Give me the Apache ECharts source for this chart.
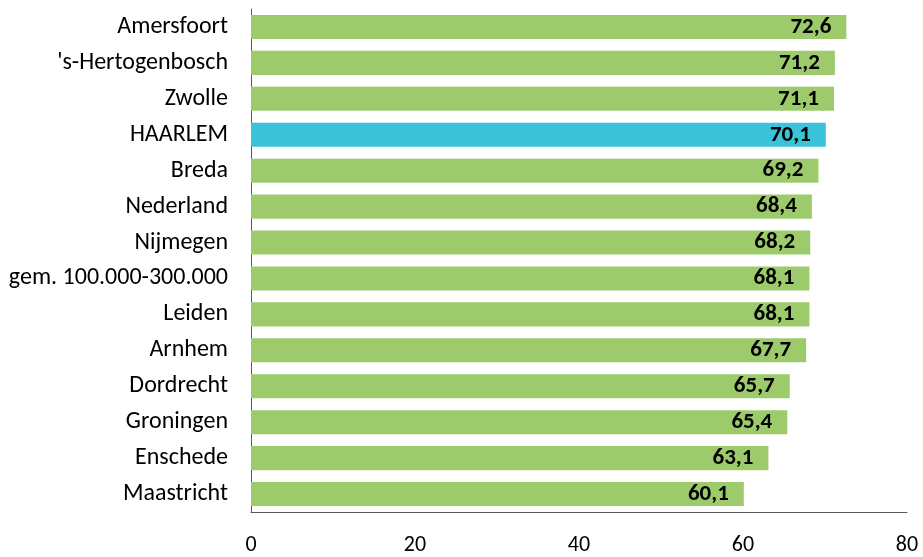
<!DOCTYPE html>
<html><head><meta charset="utf-8">
<script src="https://cdn.jsdelivr.net/npm/echarts@6/dist/echarts.min.js"></script>
<style>html,body{margin:0;padding:0;background:#fff}#c{width:923px;height:557px}</style>
</head><body><div id="c"></div>
<script>
const categories = ['Amersfoort', "'s-Hertogenbosch", 'Zwolle', 'HAARLEM', 'Breda', 'Nederland', 'Nijmegen', 'gem. 100.000-300.000', 'Leiden', 'Arnhem', 'Dordrecht', 'Groningen', 'Enschede', 'Maastricht'];
const values = [72.6, 71.2, 71.1, 70.1, 69.2, 68.4, 68.2, 68.1, 68.1, 67.7, 65.7, 65.4, 63.1, 60.1];
const highlight = 'HAARLEM';
const xTicks = [0, 20, 40, 60, 80];

const FONT = 'Carlito, Lato, "Liberation Sans", sans-serif';
const chart = echarts.init(document.getElementById('c'));
chart.setOption({
  animation: false,
  grid: { left: 251, right: 16, top: 9, bottom: 45, containLabel: false },
  xAxis: {
    type: 'value', min: xTicks[0], max: xTicks[xTicks.length - 1], interval: 20,
    axisLine: { show: true, lineStyle: { color: '#595959', width: 1 } },
    axisTick: { show: false },
    splitLine: { show: false },
    axisLabel: { color: '#000', fontSize: 22, fontFamily: FONT, margin: 22 }
  },
  yAxis: {
    type: 'category', data: categories, inverse: true,
    axisLine: { show: true, lineStyle: { color: '#595959', width: 1 } },
    axisTick: { show: false },
    axisLabel: { color: '#000', fontSize: 24, fontFamily: FONT, margin: 23, padding: [3, 0, 0, 0] }
  },
  series: [{
    type: 'bar',
    barCategoryGap: '33%',
    data: values.map((v, i) => ({
      value: v,
      itemStyle: { color: categories[i] === highlight ? '#3BC4D9' : '#9DCB6C' }
    })),
    label: {
      show: true, position: 'insideRight', distance: 15,
      color: '#000', fontWeight: 'bold', fontSize: 23, fontFamily: FONT,
      padding: [3, 0, 0, 0],
      formatter: p => p.value.toFixed(1).replace('.', ',')
    }
  }]
});
</script></body></html>
